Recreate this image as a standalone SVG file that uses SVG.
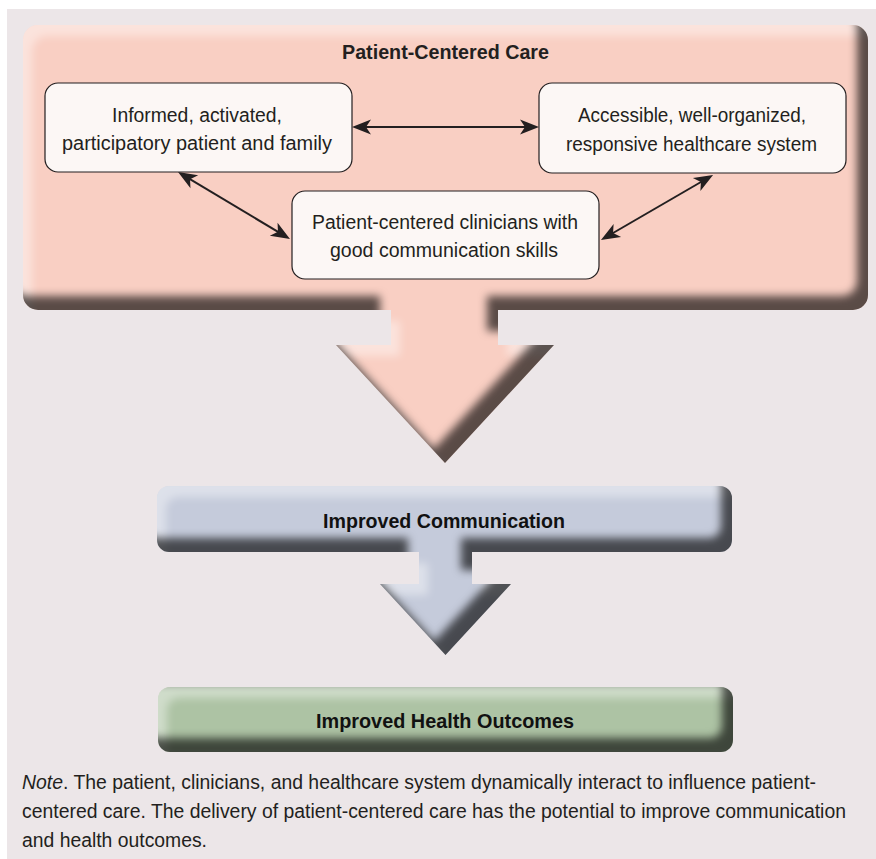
<svg xmlns="http://www.w3.org/2000/svg" width="876" height="859" viewBox="0 0 876 859">
  <defs>
    <filter id="bevel" x="-5%" y="-5%" width="110%" height="110%" color-interpolation-filters="sRGB">
      <feOffset in="SourceAlpha" dx="-11" dy="-14" result="sh"/>
      <feGaussianBlur in="sh" stdDeviation="4.5" result="shb"/>
      <feComposite in="SourceAlpha" in2="shb" operator="out" result="shadowMask"/>
      <feFlood flood-color="#000000" flood-opacity="0.64"/>
      <feComposite in2="shadowMask" operator="in" result="shadow"/>
      <feOffset in="SourceAlpha" dx="9" dy="11" result="hl"/>
      <feGaussianBlur in="hl" stdDeviation="4.5" result="hlb"/>
      <feComposite in="SourceAlpha" in2="hlb" operator="out" result="hlMask"/>
      <feFlood flood-color="#ffffff" flood-opacity="0.42"/>
      <feComposite in2="hlMask" operator="in" result="hilite"/>
      <feMerge>
        <feMergeNode in="SourceGraphic"/>
        <feMergeNode in="hilite"/>
        <feMergeNode in="shadow"/>
      </feMerge>
    </filter>
    <marker id="ah" viewBox="-10 -9 22 18" refX="0" refY="0" markerWidth="22" markerHeight="18" markerUnits="userSpaceOnUse" orient="auto-start-reverse">
      <path d="M10,0 L-9,-7.5 L-4,0 L-9,7.5 Z" fill="#231f20"/>
    </marker>
    <style>
      .t { font-family: "Liberation Sans", Arial, sans-serif; fill: #231f20; }
      .box { fill: #fcf7f5; stroke: #231f20; stroke-width: 1.2; }
      .lbl { font-size: 20px; text-anchor: middle; }
      .bar { font-size: 20.5px; font-weight: bold; text-anchor: middle; fill: #111111; }
      .note { font-size: 19.5px; }
      .conn { stroke: #231f20; stroke-width: 2; fill: none; marker-start: url(#ah); marker-end: url(#ah); }
    </style>
  </defs>

  <rect x="0" y="0" width="876" height="859" fill="#ffffff"/>
  <rect x="7" y="9" width="869" height="850" fill="#ece6e8"/>

  <g id="patient-centered-care">
    <path filter="url(#bevel)" fill="#f9cfc3" d="M38,25 H853 A15,15 0 0 1 868,40 V295 A15,15 0 0 1 853,310 H498 V345 H554 L445,463 L336,345 H391 V310 H38 A15,15 0 0 1 23,295 V40 A15,15 0 0 1 38,25 Z"/>
    <text class="t" x="445.5" y="59" font-size="20.5" font-weight="bold" text-anchor="middle" textLength="207" lengthAdjust="spacingAndGlyphs">Patient-Centered Care</text>
  </g>

  <g id="patient-family">
    <rect class="box" x="45" y="83" width="307" height="89" rx="13"/>
    <text class="t lbl" x="197" y="122" textLength="170" lengthAdjust="spacingAndGlyphs">Informed, activated,</text>
    <text class="t lbl" x="197" y="150" textLength="270" lengthAdjust="spacingAndGlyphs">participatory patient and family</text>
  </g>

  <g id="healthcare-system">
    <rect class="box" x="539" y="83" width="307" height="90" rx="13"/>
    <text class="t lbl" x="692" y="122" textLength="228" lengthAdjust="spacingAndGlyphs">Accessible, well-organized,</text>
    <text class="t lbl" x="691.5" y="151" textLength="251" lengthAdjust="spacingAndGlyphs">responsive healthcare system</text>
  </g>

  <g id="clinicians">
    <rect class="box" x="292" y="191" width="307" height="88" rx="13"/>
    <text class="t lbl" x="445" y="229" textLength="266" lengthAdjust="spacingAndGlyphs">Patient-centered clinicians with</text>
    <text class="t lbl" x="444" y="257" textLength="228" lengthAdjust="spacingAndGlyphs">good communication skills</text>
  </g>

  <g id="connectors">
    <line class="conn" x1="362" y1="127" x2="529" y2="127"/>
    <line class="conn" x1="186.6" y1="177.1" x2="281.4" y2="233.9"/>
    <line class="conn" x1="704.4" y1="180" x2="609.6" y2="235"/>
  </g>

  <g id="improved-communication">
    <path filter="url(#bevel)" fill="#c5cbdb" d="M169,486 H720 A12,12 0 0 1 732,498 V540 A12,12 0 0 1 720,552 H472 V584 H511 L445.5,655 L380,584 H419 V552 H169 A12,12 0 0 1 157,540 V498 A12,12 0 0 1 169,486 Z"/>
    <text class="t bar" x="444" y="528" textLength="242" lengthAdjust="spacingAndGlyphs">Improved Communication</text>
  </g>

  <g id="improved-health-outcomes">
    <rect filter="url(#bevel)" fill="#adc3a4" x="158" y="687" width="575" height="65" rx="12"/>
    <text class="t bar" x="445" y="728" textLength="258" lengthAdjust="spacingAndGlyphs">Improved Health Outcomes</text>
  </g>

  <g id="note">
    <text class="t note" x="22" y="789" textLength="794" lengthAdjust="spacingAndGlyphs"><tspan font-style="italic">Note</tspan>. The patient, clinicians, and healthcare system dynamically interact to influence patient-</text>
    <text class="t note" x="22" y="818" textLength="824" lengthAdjust="spacingAndGlyphs">centered care. The delivery of patient-centered care has the potential to improve communication</text>
    <text class="t note" x="22" y="847" textLength="185" lengthAdjust="spacingAndGlyphs">and health outcomes.</text>
  </g>
</svg>
